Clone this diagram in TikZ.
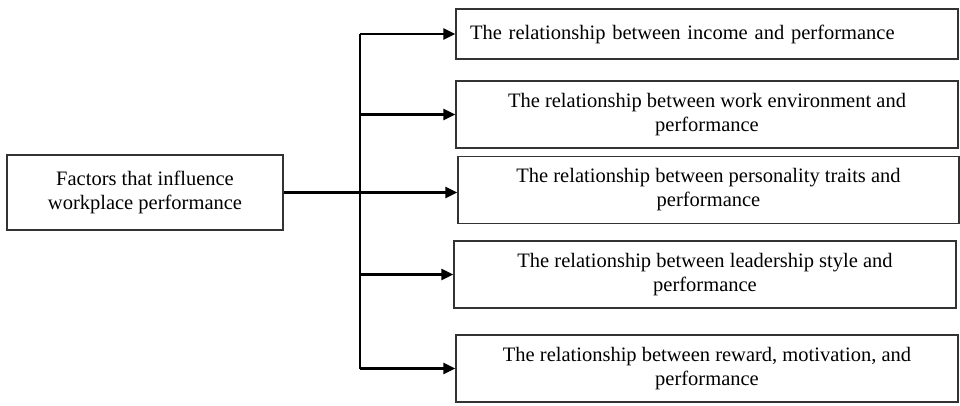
\documentclass[tikz,border=0pt]{standalone}
\usepackage{fontspec}
\setmainfont{Liberation Serif}
\usetikzlibrary{arrows.meta}
\begin{document}
\begin{tikzpicture}[x=1pt,y=-1pt,
  box/.style={draw=black!80, line width=1.4pt, align=center, inner sep=0pt,
    minimum width=502pt, minimum height=67pt, font=\fontsize{20.5}{24}\selectfont},
  link/.style={line width=2.8pt, -{Triangle[length=12pt,width=11pt]}}]
\useasboundingbox (0,0) rectangle (960,405);

\node[box, minimum width=276pt, minimum height=75pt] (F) at (145,192.5)
  {Factors that influence\\workplace performance};

\node[box, minimum height=50pt, text width=474pt, align=left] (R1) at (707,34)
  {The relationship between income and performance};
\node[box] (R2) at (707,114.5) {The relationship between work environment and\\performance};
\node[box, minimum width=501pt] (R3) at (708.5,190) {The relationship between personality traits and\\performance};
\node[box] (R4) at (705,274.5) {The relationship between leadership style and\\performance};
\node[box] (R5) at (707,368.5) {The relationship between reward, motivation, and\\performance};

\coordinate (S) at (360,0);
\draw[line width=2.8pt] (R1.west -| S) -- (R5.west -| S);
\draw[link] (F.east) -- (F.east -| R3.west);
\draw[link] (R1.west -| S) -- (R1.west);
\draw[link] (R2.west -| S) -- (R2.west);
\draw[link] (R4.west -| S) -- (R4.west);
\draw[link] (R5.west -| S) -- (R5.west);
\end{tikzpicture}
\end{document}
